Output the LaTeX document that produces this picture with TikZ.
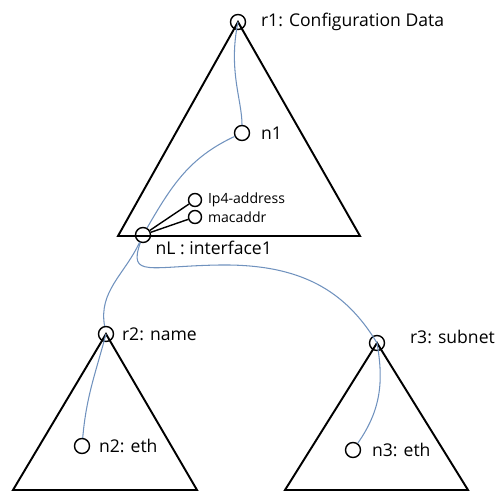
\documentclass[tikz,border=0pt]{standalone}
\usepackage{fontspec}
\setmainfont{Open Sans}
\usetikzlibrary{positioning}
\definecolor{linkblue}{RGB}{112,146,190}

\begin{document}
\begin{tikzpicture}[
    x=0.02cm, y=-0.02cm,
    elem/.style={draw, circle, line width=0.8pt, inner sep=0pt, minimum size=0.3cm},
    leaf/.style={draw, circle, line width=0.8pt, inner sep=0pt, minimum size=0.26cm},
    tag/.style={inner sep=0pt, font=\fontsize{10}{12}\selectfont},
    smalltag/.style={inner sep=0pt, font=\fontsize{8}{10}\selectfont},
    tree/.style={draw, line width=1.1pt, line join=miter},
    link/.style={linkblue, line width=0.6pt}
]
\useasboundingbox (0,0) rectangle (502,492);

% element nodes
\node[elem] (r1) at (238,22) {};
\node[elem] (n1) at (242,133) {};
\node[leaf] (ip4) at (195,200) {};
\node[leaf] (mac) at (195,217) {};
\node[elem] (nL) at (143,235) {};
\node[elem] (r2) at (106,334) {};
\node[elem] (n2) at (82,446) {};
\node[elem] (r3) at (377,343) {};
\node[elem] (n3) at (353,450) {};

% labels
\node[tag, right=0.29cm of r1] (r1txt) {r1: Configuration Data};
\node[tag, right=0.21cm of n1] (n1txt) {n1};
\node[smalltag, right=0.11cm of ip4] (ip4txt) {Ip4-address};
\node[smalltag, right=0.11cm of mac] (mactxt) {macaddr};
\node[tag, below right=0cm and 0.13cm of nL] (nLtxt) {nL : interface1};
\node[tag, right=0.15cm of r2] (r2txt) {r2: name};
\node[tag, right=0.17cm of n2] (n2txt) {n2: eth};
\node[tag, right=0.49cm of r3, yshift=0.12cm] (r3txt) {r3: subnet};
\node[tag, right=0.21cm of n3] (n3txt) {n3: eth};

% subtrees
\draw[tree] (r1.center) -- (360,236) -- (118,236) -- cycle;
\draw[tree] (r2.center) -- (197,490) -- (13,490) -- cycle;
\draw[tree] (r3.center) -- (468,490) -- (285,490) -- cycle;

% leaves of nL
\draw[line width=0.8pt] (nL) -- (ip4);
\draw[line width=0.8pt] (nL) -- (mac);

% paths
\draw[link] (r1.center) .. controls (228,70) and (242,100) .. (n1);
\draw[link] (n1) to[out=205, in=60] (nL);
\draw[link] (nL) to[out=-115, in=100] (r2);
\draw[link] (r2.center) to[out=-105, in=85] (n2);
\draw[link] (nL) .. controls (128,278) and (150,266) .. (220,265)
    .. controls (300,264) and (345,290) .. (r3.center);
\draw[link] (r3.center) to[out=-80, in=55] (n3);
\end{tikzpicture}
\end{document}
